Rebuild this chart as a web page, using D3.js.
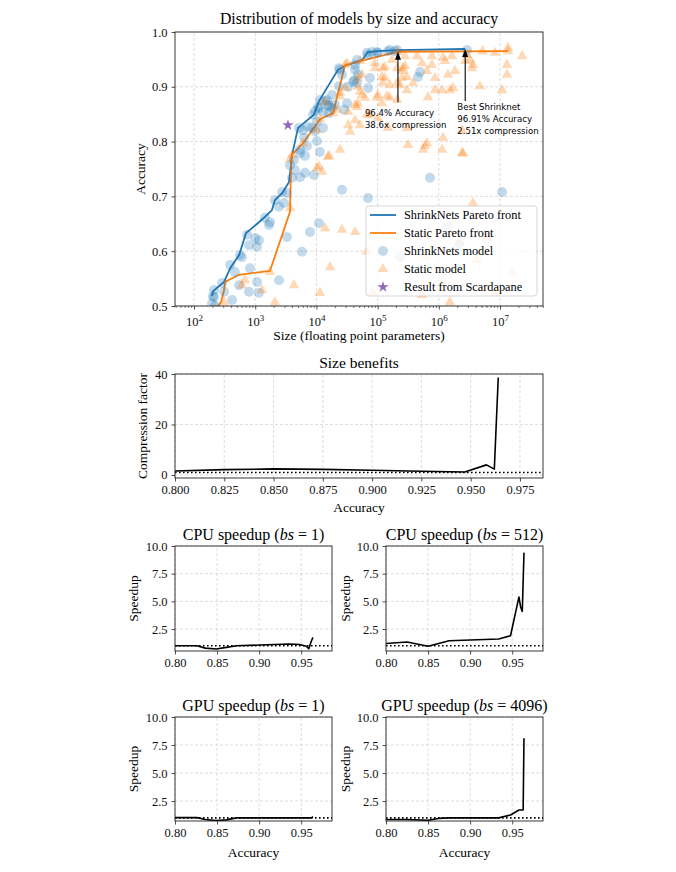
<!DOCTYPE html>
<html>
<head>
<meta charset="utf-8">
<script src="https://cdnjs.cloudflare.com/ajax/libs/d3/7.8.5/d3.min.js"></script>
<style>
body { margin: 0; background: #fff; }
</style>
</head>
<body>
<script>
// ---- data ----
// Pareto fronts: [size, accuracy]
var shrinkFront = [[197,0.518],[204,0.527],[310,0.544],[390,0.569],[545,0.593],[707,0.633],[886,0.642],
	[1390,0.661],[1880,0.675],[2090,0.693],[2750,0.706],[3560,0.726],[3850,0.757],[3900,0.770],[5000,0.825],
	[9100,0.849],[11000,0.874],[22500,0.931],[29000,0.938],[56000,0.949],[69000,0.9635],[101000,0.965],
	[215000,0.967],[2.7e6,0.969]];
var staticFront = [[240,0.498],[276,0.507],[310,0.529],[322,0.544],[543,0.557],[1740,0.564],[3700,0.672],
	[3850,0.757],[4000,0.776],[6000,0.797],[11500,0.841],[18700,0.852],[29400,0.940],[52000,0.947],
	[215000,0.964],[1.35e7,0.965]];

// individual models: [size, accuracy]
var shrinkModels = [[4450,0.748],[5400,0.735],[6500,0.743],[9100,0.739],[4000,0.734],[26200,0.712],[2750,0.708],
	[3300,0.706],[2100,0.693],[2450,0.681],[2960,0.688],[1440,0.661],[1680,0.648],[1740,0.653],[11000,0.651],
	[7850,0.635],[735,0.630],[1000,0.624],[1150,0.620],[790,0.611],[1070,0.608],[3300,0.626],[565,0.593],
	[605,0.589],[5800,0.599],[390,0.575],[820,0.569],[465,0.562],[287,0.542],[545,0.538],[1070,0.544],
	[2450,0.547],[212,0.529],[310,0.526],[790,0.526],[1150,0.524],[212,0.516],[420,0.511],[197,0.505],
	[220,0.500],[204,0.518],
	[717000,0.734],[69600,0.697],[1.08e7,0.708],[1.41e6,0.644],[2.14e6,0.613],[233000,0.589],
	[5400,0.785],[11400,0.781],[23300,0.934],[26200,0.922],[41500,0.912],[46000,0.907],[23300,0.901],
	[31700,0.870],[28300,0.858],[20100,0.867],[18000,0.861],[16100,0.865],[13800,0.874],[11400,0.876],
	[11000,0.861],[9500,0.856],[16100,0.852],[5200,0.825],[8500,0.825],[9500,0.819],[6300,0.807],
	[10200,0.801],[7000,0.792],[5400,0.779],[4300,0.766],[6500,0.774],[67000,0.962],[81000,0.9635],
	[97500,0.9635],[158000,0.967],[208000,0.967],[69600,0.958],[46000,0.949],[42800,0.940],[24300,0.931],
	[75000,0.916],[40000,0.909],[33000,0.900],[69600,0.898],[493000,0.927],[457000,0.918],[18000,0.885],
	[14900,0.876],[15400,0.867],[10600,0.863],[12800,0.854],[8800,0.849],[7300,0.827],[10200,0.836],
	[6000,0.821],[12800,0.825],[101000,0.962],[147000,0.965],[192000,0.965],[42800,0.931],[47700,0.922],
	[2.89e6,0.967],[3700,0.757]];
var staticModels = [[280000,0.956],[440000,0.956],[773000,0.956],[1.17e6,0.953],[1.64e6,0.956],[2.89e6,0.958],
	[5.2e6,0.965],[8.3e6,0.962],[1.35e7,0.971],[2.3e7,0.956],[3.24e6,0.949],[172000,0.949],[90500,0.943],
	[122000,0.934],[208000,0.934],[280000,0.938],[530000,0.943],[773000,0.940],[1.26e6,0.947],[2.68e6,0.947],
	[3.62e6,0.940],[1.3e7,0.940],[131000,0.916],[251000,0.916],[380000,0.907],[641000,0.929],[866000,0.916],
	[1.41e6,0.922],[1.84e6,0.929],[3.49e6,0.934],[1.3e7,0.922],[251000,0.929],[302000,0.894],[158000,0.880],
	[142000,0.883],[101000,0.885],[208000,0.907],[866000,0.894],[1.52e6,0.894],[1.70e6,0.898],[4.7e6,0.901],
	[1.08e7,0.894],[55500,0.885],[1.17e6,0.807],[2.39e6,0.821],[641000,0.797],[314000,0.794],[595000,0.792],
	[2.39e6,0.779],[302000,0.825],[147000,0.825],[1.13e6,0.894],[665000,0.881],[47700,0.900],[42800,0.867],
	[97500,0.880],[117000,0.870],[67000,0.849],[24300,0.889],[21700,0.858],[13800,0.872],[47700,0.916],
	[55500,0.922],[29400,0.898],[51500,0.891],[90500,0.934],[131000,0.936],[117000,0.918],[122000,0.907],
	[158000,0.903],[260000,0.934],[302000,0.918],[233000,0.903],[208000,0.876],[62000,0.880],[47700,0.870],
	[33000,0.854],[46000,0.863],[75000,0.849],[42800,0.839],[51500,0.830],[33000,0.830],[35500,0.818],
	[101000,0.843],[31700,0.943],[24300,0.883],[24300,0.785],[16100,0.774],[11000,0.755],[10200,0.821],
	[3700,0.768],[15400,0.772],[10200,0.752],[12300,0.745],[553000,0.785],[1.13e6,0.785],[2.48e6,0.779],
	[3.62e6,0.688],[6.1e6,0.624],[4.2e6,0.584],[1.58e7,0.560],[2.22e6,0.617],[67000,0.599],[595000,0.589],
	[1.13e6,0.542],[84000,0.524],[530000,0.520],[13800,0.642],[26200,0.639],[42800,0.635],[16700,0.571],
	[11400,0.524],[4300,0.538],[2100,0.507],[1.52e6,0.507],[8.3e6,0.524],[1740,0.562],[1290,0.529],
	[605,0.538],[680,0.547],[310,0.507],[3700,0.679],[4000,0.776],[6000,0.797],[11500,0.841],[18700,0.852],
	[29400,0.940],[52000,0.947],[215000,0.964],[1.35e7,0.965]];
var scardapane = [[3430,0.830]];

var sizeTicks = [1e2,1e3,1e4,1e5,1e6,1e7];
var accTicks = [0.5,0.6,0.7,0.8,0.9,1.0];

// size benefits
var benefitAcc = [0.800,0.825,0.850,0.875,0.900,0.925,0.947,0.958,0.962,0.964];
var benefitVal = [1.6,2.1,2.4,2.2,1.9,1.5,1.2,4.0,2.3,38.6];
var benefitXTicks = [0.800,0.825,0.850,0.875,0.900,0.925,0.950,0.975];
var benefitYTicks = [0,20,40];

// speedups
var cpu1Acc = [0.800,0.826,0.836,0.849,0.861,0.873,0.901,0.936,0.948,0.956,0.959,0.962,0.964];
var cpu1Val = [1.0,1.0,0.78,0.7,0.85,1.0,1.06,1.15,1.1,0.95,0.72,1.4,1.75];
var cpu512Acc = [0.800,0.825,0.850,0.875,0.934,0.948,0.958,0.960,0.962,0.964];
var cpu512Val = [1.2,1.33,0.95,1.45,1.6,1.9,5.4,4.5,4.1,9.4];
var gpu1Acc = [0.800,0.826,0.836,0.849,0.861,0.873,0.900,0.950,0.962,0.964];
var gpu1Val = [1.02,1.02,0.85,0.75,0.82,1.0,1.0,1.0,1.0,1.1];
var gpu4096Acc = [0.800,0.825,0.850,0.862,0.875,0.934,0.948,0.958,0.963,0.964];
var gpu4096Val = [0.85,0.85,0.78,0.95,1.0,1.0,1.25,1.7,1.7,8.1];
var speedXTicks = [0.80,0.85,0.90,0.95];
var speedYTicks = [2.5,5.0,7.5,10.0];

var serif = "'Liberation Serif', 'DejaVu Serif', serif";
var sans = "'DejaVu Sans', sans-serif";
var blue = "#1f77b4", orange = "#ff7f0e", purple = "#9467bd";

var svg = d3.select("body").append("svg")
	.attr("width", 676)
	.attr("height", 872);
svg.append("rect").attr("width", 676).attr("height", 872).attr("fill", "#fff");

var clipId = 0;

// grid + clip for one axes box
function makeAxes(x, y, xv, yv) {
	var xr = x.range(), yr = y.range();
	var g = svg.append("g");
	g.selectAll(null).data(xv).enter().append("line")
		.attr("x1", x).attr("x2", x)
		.attr("y1", yr[0]).attr("y2", yr[1])
		.attr("stroke", "#cfcfcf").attr("stroke-width", 0.7)
		.attr("stroke-dasharray", "3,2");
	g.selectAll(null).data(yv).enter().append("line")
		.attr("y1", y).attr("y2", y)
		.attr("x1", xr[0]).attr("x2", xr[1])
		.attr("stroke", "#cfcfcf").attr("stroke-width", 0.7)
		.attr("stroke-dasharray", "3,2");
	clipId++;
	svg.append("clipPath").attr("id", "clip" + clipId)
		.append("rect")
		.attr("x", xr[0]).attr("y", yr[1])
		.attr("width", xr[1] - xr[0]).attr("height", yr[0] - yr[1]);
	var plot = svg.append("g").attr("clip-path", "url(#clip" + clipId + ")");
	return plot;
}

function frame(x, y) {
	var xr = x.range(), yr = y.range();
	svg.append("rect")
		.attr("x", xr[0]).attr("y", yr[1])
		.attr("width", xr[1] - xr[0]).attr("height", yr[0] - yr[1])
		.attr("fill", "none").attr("stroke", "#222").attr("stroke-width", 0.9);
}

function styleAxis(sel, size) {
	sel.select(".domain").remove();
	sel.attr("font-family", serif).attr("font-size", size);
	sel.selectAll(".tick line").attr("stroke", "#222").attr("stroke-width", 0.8);
	sel.selectAll(".tick text").attr("fill", "#111");
}

function yLabel(text, xx, yy, size) {
	svg.append("text")
		.attr("transform", "translate(" + xx + "," + yy + ") rotate(-90)")
		.attr("text-anchor", "middle")
		.attr("font-family", serif)
		.attr("font-size", size)
		.text(text);
}

function label(text, xx, yy, size) {
	svg.append("text")
		.attr("x", xx).attr("y", yy)
		.attr("text-anchor", "middle")
		.attr("font-family", serif)
		.attr("font-size", size)
		.text(text);
}

// ============ top: scatter ============
var xTop = d3.scaleLog().domain([48.9, 5.04e7]).range([175, 543]);
var yTop = d3.scaleLinear().domain([0.5, 1.0]).range([306, 32]);

var topPlot = makeAxes(xTop, yTop, sizeTicks, accTicks);

var frontLine = d3.line()
	.x(function (d) { return xTop(d[0]); })
	.y(function (d) { return yTop(d[1]); });

topPlot.append("path")
	.datum(shrinkFront)
	.attr("d", frontLine)
	.attr("fill", "none").attr("stroke", blue).attr("stroke-width", 1.8);
topPlot.append("path")
	.datum(staticFront)
	.attr("d", frontLine)
	.attr("fill", "none").attr("stroke", orange).attr("stroke-width", 1.8);

topPlot.selectAll("circle.m")
	.data(shrinkModels)
	.enter().append("circle")
	.attr("class", "m")
	.attr("cx", function (d) { return xTop(d[0]); })
	.attr("cy", function (d) { return yTop(d[1]); })
	.attr("r", 5)
	.attr("fill", blue).attr("fill-opacity", 0.27);

var tri = d3.symbol().type(d3.symbolTriangle).size(48);
topPlot.selectAll("path.t")
	.data(staticModels)
	.enter().append("path")
	.attr("class", "t")
	.attr("d", tri)
	.attr("transform", function (d) { return "translate(" + xTop(d[0]) + "," + yTop(d[1]) + ")"; })
	.attr("fill", orange).attr("fill-opacity", 0.3);

var star = d3.symbol().type(d3.symbolStar).size(40);
topPlot.selectAll("path.s")
	.data(scardapane)
	.enter().append("path")
	.attr("class", "s")
	.attr("d", star)
	.attr("transform", function (d) { return "translate(" + xTop(d[0]) + "," + yTop(d[1]) + ")"; })
	.attr("fill", purple);

// annotations
var notes = [
	{ at: [215000, 0.964], tail: 0.872, tx: 62000, lines: ["96.4% Accuracy", "38.6x compression"], ty: 0.846 },
	{ at: [2.7e6, 0.969], tail: 0.874, tx: 2.0e6, lines: ["Best Shrinknet", "96.91% Accuracy", "2.51x compression"], ty: 0.857 }
];
notes.forEach(function (n) {
	var ax = xTop(n.at[0]), ay = yTop(n.at[1]);
	svg.append("line")
		.attr("x1", ax).attr("x2", ax)
		.attr("y1", yTop(n.tail)).attr("y2", ay + 6)
		.attr("stroke", "#000").attr("stroke-width", 1.1);
	svg.append("path")
		.attr("d", "M" + ax + "," + ay + "L" + (ax - 3) + "," + (ay + 8) + "L" + (ax + 3) + "," + (ay + 8) + "Z")
		.attr("fill", "#000");
	n.lines.forEach(function (t, i) {
		svg.append("text")
			.attr("x", xTop(n.tx)).attr("y", yTop(n.ty) + i * 12)
			.attr("font-family", sans).attr("font-size", 8.6)
			.text(t);
	});
});

// axes
var xTopAxis = svg.append("g")
	.attr("transform", "translate(0,306)")
	.call(d3.axisBottom(xTop).tickValues(sizeTicks).tickFormat("").tickSize(3.5));
styleAxis(xTopAxis, 12.5);
xTopAxis.selectAll(".tick").each(function (d) {
	var t = d3.select(this).append("text")
		.attr("y", 20).attr("text-anchor", "middle").attr("fill", "#111");
	t.append("tspan").text("10");
	t.append("tspan").attr("dy", -5.5).attr("font-size", 9).text(Math.round(Math.log10(d)));
});
var minors = [];
for (var e = 1; e <= 7; e++) {
	for (var k = 2; k <= 9; k++) {
		var v = k * Math.pow(10, e);
		if (v > 48.9 && v < 5.04e7) minors.push(v);
	}
}
var xTopMinor = svg.append("g")
	.attr("transform", "translate(0,306)")
	.call(d3.axisBottom(xTop).tickValues(minors).tickFormat("").tickSize(2));
styleAxis(xTopMinor, 11);
xTopMinor.selectAll(".tick line").attr("stroke-width", 0.6);

var yTopAxis = svg.append("g")
	.attr("transform", "translate(175,0)")
	.call(d3.axisLeft(yTop).tickValues(accTicks).tickFormat(d3.format(".1f")).tickSize(3.5).tickPadding(4));
styleAxis(yTopAxis, 12.5);
frame(xTop, yTop);

label("Distribution of models by size and accuracy", 359, 24, 15.8);
label("Size (floating point parameters)", 359, 340, 13.5);
yLabel("Accuracy", 145, 169, 13.5);

// legend
var lg = svg.append("g");
lg.append("rect")
	.attr("x", 366).attr("y", 206).attr("width", 171).attr("height", 90).attr("rx", 3)
	.attr("fill", "#fff").attr("fill-opacity", 0.8)
	.attr("stroke", "#cccccc").attr("stroke-width", 0.8);
var legendNames = ["ShrinkNets Pareto front", "Static Pareto front", "ShrinkNets model", "Static model", "Result from Scardapane"];
legendNames.forEach(function (name, i) {
	var ly = 215 + i * 18;
	if (i === 0 || i === 1) {
		lg.append("line").attr("x1", 370).attr("x2", 396).attr("y1", ly).attr("y2", ly)
			.attr("stroke", i === 0 ? blue : orange).attr("stroke-width", 1.8);
	} else if (i === 2) {
		lg.append("circle").attr("cx", 383).attr("cy", ly).attr("r", 5)
			.attr("fill", blue).attr("fill-opacity", 0.27);
	} else if (i === 3) {
		lg.append("path").attr("d", tri).attr("transform", "translate(383," + ly + ")")
			.attr("fill", orange).attr("fill-opacity", 0.3);
	} else {
		lg.append("path").attr("d", star).attr("transform", "translate(383," + ly + ")")
			.attr("fill", purple);
	}
	lg.append("text").attr("x", 404).attr("y", ly + 4)
		.attr("font-family", serif).attr("font-size", 12.3)
		.text(name);
});

// ============ line panels ============
function linePanel(o) {
	var x = d3.scaleLinear().domain(o.xDomain).range([o.x0, o.x1]);
	var y = d3.scaleLinear().domain(o.yDomain).range([o.y1, o.y0]);
	var plot = makeAxes(x, y, o.xTicks, o.yTicks);

	plot.append("line")
		.attr("x1", o.x0).attr("x2", o.x1)
		.attr("y1", y(1)).attr("y2", y(1))
		.attr("stroke", "#000").attr("stroke-width", 1.6)
		.attr("stroke-dasharray", "1.6,2.4");

	var pts = o.acc.map(function (a, i) { return [a, o.val[i]]; });
	plot.append("path")
		.datum(pts)
		.attr("d", d3.line()
			.x(function (d) { return x(d[0]); })
			.y(function (d) { return y(d[1]); }))
		.attr("fill", "none").attr("stroke", "#000").attr("stroke-width", 1.6)
		.attr("stroke-linejoin", "round");

	var xa = svg.append("g")
		.attr("transform", "translate(0," + o.y1 + ")")
		.call(d3.axisBottom(x).tickValues(o.xTicks).tickFormat(d3.format(o.xFmt)).tickSize(3.5).tickPadding(4));
	styleAxis(xa, 12.5);
	var ya = svg.append("g")
		.attr("transform", "translate(" + o.x0 + ",0)")
		.call(d3.axisLeft(y).tickValues(o.yTicks).tickFormat(d3.format(o.yFmt)).tickSize(3.5).tickPadding(4));
	styleAxis(ya, 12.5);
	frame(x, y);

	var cx = (o.x0 + o.x1) / 2;
	var tt = svg.append("text")
		.attr("x", cx).attr("y", o.titleY)
		.attr("text-anchor", "middle")
		.attr("font-family", serif).attr("font-size", o.bs ? 16 : 15.5);
	if (o.bs) {
		tt.append("tspan").text(o.title + " (");
		tt.append("tspan").attr("font-style", "italic").text("bs");
		tt.append("tspan").text(" = " + o.bs + ")");
	} else {
		tt.text(o.title);
	}
	yLabel(o.ylabel, o.ylabelX, (o.y0 + o.y1) / 2, 13.5);
	if (o.xlabel) label(o.xlabel, cx, o.xlabelY, 13.5);
}

linePanel({
	x0: 175, x1: 543, y0: 374, y1: 478,
	xDomain: [0.8, 0.9867], yDomain: [-1.2, 40],
	xTicks: benefitXTicks, yTicks: benefitYTicks, xFmt: ".3f", yFmt: "d",
	acc: benefitAcc, val: benefitVal,
	title: "Size benefits", titleY: 368,
	ylabel: "Compression factor", ylabelX: 147,
	xlabel: "Accuracy", xlabelY: 512
});

linePanel({
	x0: 175, x1: 332, y0: 546, y1: 651,
	xDomain: [0.8, 0.9866], yDomain: [0.52, 10],
	xTicks: speedXTicks, yTicks: speedYTicks, xFmt: ".2f", yFmt: ".1f",
	acc: cpu1Acc, val: cpu1Val,
	title: "CPU speedup", bs: "1", titleY: 540,
	ylabel: "Speedup", ylabelX: 138
});

linePanel({
	x0: 386, x1: 543, y0: 546, y1: 651,
	xDomain: [0.8, 0.9866], yDomain: [0.52, 10],
	xTicks: speedXTicks, yTicks: speedYTicks, xFmt: ".2f", yFmt: ".1f",
	acc: cpu512Acc, val: cpu512Val,
	title: "CPU speedup", bs: "512", titleY: 540,
	ylabel: "Speedup", ylabelX: 350
});

linePanel({
	x0: 175, x1: 332, y0: 717, y1: 821,
	xDomain: [0.8, 0.9866], yDomain: [0.72, 10],
	xTicks: speedXTicks, yTicks: speedYTicks, xFmt: ".2f", yFmt: ".1f",
	acc: gpu1Acc, val: gpu1Val,
	title: "GPU speedup", bs: "1", titleY: 711,
	ylabel: "Speedup", ylabelX: 138,
	xlabel: "Accuracy", xlabelY: 857
});

linePanel({
	x0: 386, x1: 543, y0: 717, y1: 821,
	xDomain: [0.8, 0.9866], yDomain: [0.72, 10],
	xTicks: speedXTicks, yTicks: speedYTicks, xFmt: ".2f", yFmt: ".1f",
	acc: gpu4096Acc, val: gpu4096Val,
	title: "GPU speedup", bs: "4096", titleY: 711,
	ylabel: "Speedup", ylabelX: 350,
	xlabel: "Accuracy", xlabelY: 857
});
</script>
</body>
</html>
